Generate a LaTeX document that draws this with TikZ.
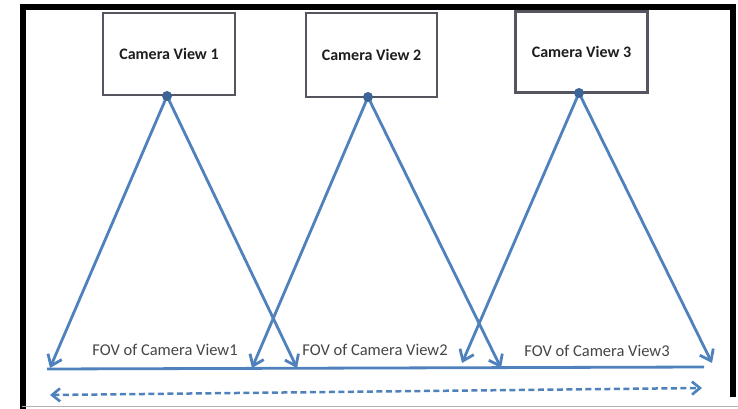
\documentclass[tikz,border=0pt]{standalone}
\usepackage{fontspec}
\setmainfont{Carlito}
\usetikzlibrary{arrows.meta}
\definecolor{fovblue}{RGB}{79,129,189}
\definecolor{dotblue}{RGB}{60,100,150}
\definecolor{boxgray}{RGB}{85,85,95}
\definecolor{txtdark}{RGB}{30,30,30}
\definecolor{txtgray}{RGB}{70,70,70}
\tikzset{
  cambox/.style={draw=boxgray, line width=2.2pt, fill=white, inner sep=0pt, font=\fontsize{16}{19}\selectfont\bfseries, text=txtdark},
  fovline/.style={draw=fovblue, line width=2.8pt, -{Straight Barb[length=10pt,width=15pt,line width=2.8pt]}},
  groundline/.style={draw=fovblue, line width=2.8pt},
  dashline/.style={draw=fovblue, line width=2.5pt, dash pattern=on 6pt off 3.5pt, {Straight Barb[length=8pt,width=13pt,line width=2.6pt]}-{Straight Barb[length=8pt,width=13pt,line width=2.6pt]}},
  fovlabel/.style={font=\fontsize{16.5}{19}\selectfont, text=txtgray, inner sep=0pt},
  camdot/.style={circle, fill=dotblue, minimum size=10pt, inner sep=0pt}
}
\begin{document}
\begin{tikzpicture}[x=1pt,y=-1pt]
\useasboundingbox (0,0) rectangle (738,409);
\fill[white] (0,0) rectangle (738,409);
% frame
\draw[black, line width=5.5pt] (23,409) -- (23,7) -- (733,7) -- (733,397);
\draw[gray!60, line width=1pt] (22,406.5) -- (738,406.5);
% camera boxes
\node[cambox, minimum width=132pt, minimum height=82pt] (cam1) at (169,54) {Camera View 1};
\node[cambox, minimum width=131pt, minimum height=84pt] (cam2) at (371.5,55) {Camera View 2};
\node[cambox, minimum width=132pt, minimum height=81pt] (cam3) at (581.5,52) {Camera View 3};
% dots
\coordinate (p1) at (167,96);
\coordinate (p2) at (368,97);
\coordinate (p3) at (579,93);
% arrow ends
\coordinate (e1l) at (50,368);
\coordinate (e1r) at (297,368);
\coordinate (e2l) at (252,368);
\coordinate (e2r) at (501,368);
\coordinate (e3l) at (462,363);
\coordinate (e3r) at (712,363);
\coordinate (hl) at (47,369);
\coordinate (hr) at (704,367);
\coordinate (dl) at (50,395);
\coordinate (dr) at (702,388);
% ground line
\draw[groundline] (hl) -- (hr);
% fov lines
\draw[fovline] (p1) -- (e1l);
\draw[fovline] (p1) -- (e1r);
\draw[fovline] (p2) -- (e2l);
\draw[fovline] (p2) -- (e2r);
\draw[fovline] (p3) -- (e3l);
\draw[fovline] (p3) -- (e3r);
\node[camdot] (d1) at (p1) {};
\node[camdot] (d2) at (p2) {};
\node[camdot] (d3) at (p3) {};
% dashed arrow
\draw[dashline] (dl) -- (dr);
% labels
\node[fovlabel] (f1) at (165,350) {FOV of Camera View1};
\node[fovlabel] (f2) at (375,350) {FOV of Camera View2};
\node[fovlabel] (f3) at (597,351) {FOV of Camera View3};
\end{tikzpicture}
\end{document}
